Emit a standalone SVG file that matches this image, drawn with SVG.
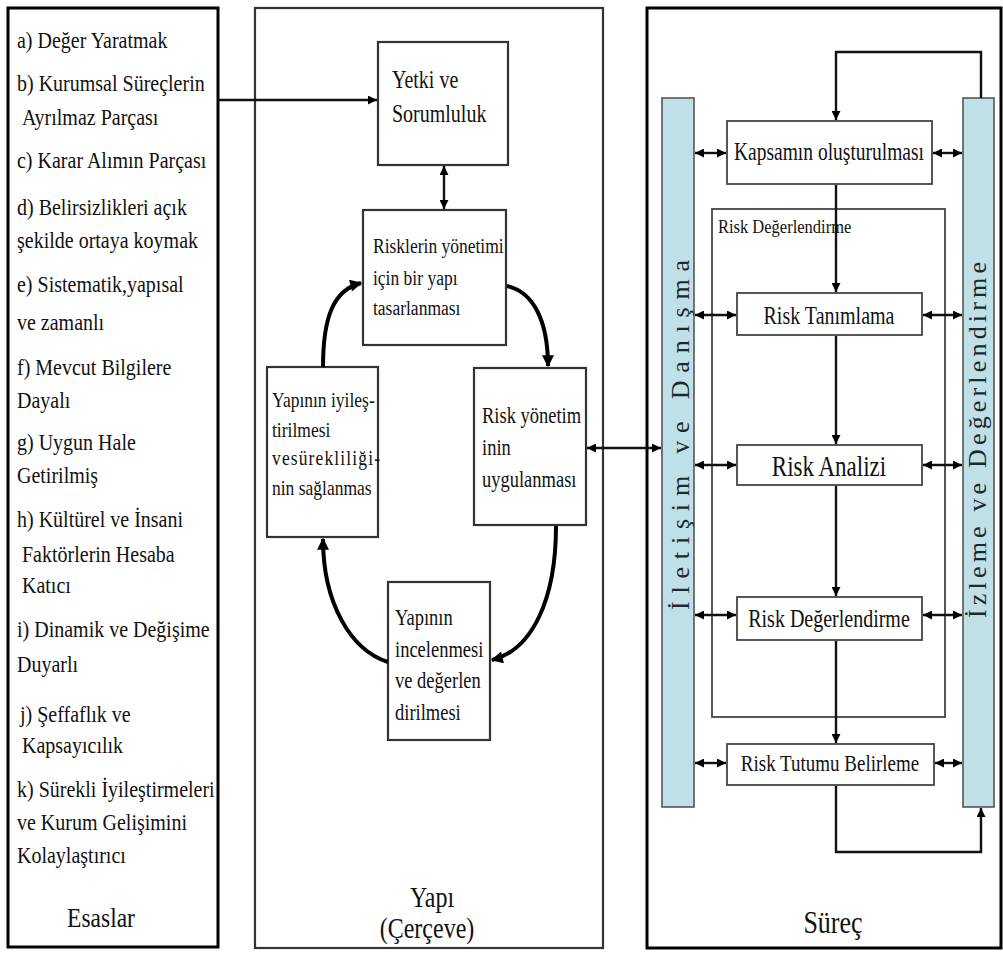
<svg xmlns="http://www.w3.org/2000/svg" width="1003" height="954" viewBox="0 0 1003 954">
<style>
text{font-family:"Liberation Serif","Times New Roman",serif;fill:#111}
.l{font-size:20px}
.m{font-size:17.5px}
.box{fill:#fff;stroke:#333;stroke-width:2.2}
.rbox{fill:#fff;stroke:#444;stroke-width:1.8}
.bar{fill:#bfe0e6;stroke:#555;stroke-width:1.6}
.c{fill:none;stroke:#111;stroke-width:2.4}
.ct{fill:none;stroke:#000;stroke-width:4}
.vt{font-size:26px;fill:#1c2a30}
</style>
<defs>
<marker id="ah" viewBox="0 0 10 10" refX="10" refY="5" markerUnits="userSpaceOnUse" markerWidth="10" markerHeight="9" orient="auto-start-reverse"><path d="M0,0 L10,5 L0,10 z" fill="#000"/></marker>
<marker id="ahb" viewBox="0 0 10 10" refX="9" refY="5" markerUnits="userSpaceOnUse" markerWidth="13" markerHeight="12" orient="auto"><path d="M0,0 L10,5 L0,10 z" fill="#000"/></marker>
</defs>
<rect width="1003" height="954" fill="#fff"/>

<g id="esaslar">
<rect x="8" y="8" width="210" height="939" fill="#fff" stroke="#000" stroke-width="3"/>
<text class="l" transform="translate(17,48) scale(1,1.15)">a) Değer Yaratmak</text>
<text class="l" transform="translate(17,91) scale(1,1.15)">b) Kurumsal Süreçlerin</text>
<text class="l" transform="translate(22,125) scale(1,1.15)">Ayrılmaz Parçası</text>
<text class="l" transform="translate(17,168) scale(1,1.15)">c) Karar Alımın Parçası</text>
<text class="l" transform="translate(17,215) scale(1,1.15)">d) Belirsizlikleri açık</text>
<text class="l" transform="translate(17,248) scale(1,1.15)">şekilde ortaya koymak</text>
<text class="l" transform="translate(17,292) scale(1,1.15)">e) Sistematik,yapısal</text>
<text class="l" transform="translate(17,330) scale(1,1.15)">ve zamanlı</text>
<text class="l" transform="translate(17,375) scale(1,1.15)">f) Mevcut Bilgilere</text>
<text class="l" transform="translate(17,408) scale(1,1.15)">Dayalı</text>
<text class="l" transform="translate(17,450) scale(1,1.15)">g) Uygun Hale</text>
<text class="l" transform="translate(17,483) scale(1,1.15)">Getirilmiş</text>
<text class="l" transform="translate(17,527) scale(1,1.15)">h) Kültürel ve İnsani</text>
<text class="l" transform="translate(22,562) scale(1,1.15)">Faktörlerin Hesaba</text>
<text class="l" transform="translate(22,593) scale(1,1.15)">Katıcı</text>
<text class="l" transform="translate(17,637) scale(1,1.15)">i) Dinamik ve Değişime</text>
<text class="l" transform="translate(17,672) scale(1,1.15)">Duyarlı</text>
<text class="l" transform="translate(20,722) scale(1,1.15)">j) Şeffaflık ve</text>
<text class="l" transform="translate(22,753) scale(1,1.15)">Kapsayıcılık</text>
<text class="l" transform="translate(17,797) scale(1,1.15)">k) Sürekli İyileştirmeleri</text>
<text class="l" transform="translate(17,830) scale(1,1.15)">ve Kurum Gelişimini</text>
<text class="l" transform="translate(17,863) scale(1,1.15)">Kolaylaştırıcı</text>
<text transform="translate(101,927) scale(1,1.2)" text-anchor="middle" font-size="23.5">Esaslar</text>
</g>

<g id="yapi">
<rect x="255" y="8" width="348" height="940" fill="#fff" stroke="#333" stroke-width="2.2"/>
<text transform="translate(432,907) scale(1,1.2)" text-anchor="middle" font-size="24">Yapı</text>
<text transform="translate(427,938) scale(1,1.2)" text-anchor="middle" font-size="24">(Çerçeve)</text>
</g>

<g id="surec">
<rect x="647" y="8" width="354" height="940" fill="#fff" stroke="#000" stroke-width="3"/>
<text transform="translate(833,933) scale(1,1.2)" text-anchor="middle" font-size="26">Süreç</text>
</g>

<g id="yetki">
<rect class="box" x="378" y="42" width="130" height="123"/>
<text transform="translate(392,88) scale(1,1.22)" font-size="20">Yetki ve</text>
<text transform="translate(392,122) scale(1,1.22)" font-size="20">Sorumluluk</text>
</g>

<g id="tasarim">
<rect class="box" x="363" y="210" width="143" height="135"/>
<text class="m" transform="translate(373,253) scale(1,1.25)" font-size="17">Risklerin yönetimi</text>
<text class="m" transform="translate(373,285) scale(1,1.25)" font-size="17">için bir yapı</text>
<text class="m" transform="translate(373,315) scale(1,1.25)" font-size="17">tasarlanması</text>
</g>

<g id="iyilestirme">
<rect class="box" x="267" y="367" width="111" height="170"/>
<text class="m" transform="translate(272,407) scale(1,1.22)">Yapının iyileş-</text>
<text class="m" transform="translate(272,437) scale(1,1.22)">tirilmesi</text>
<text class="m" transform="translate(272,465) scale(1,1.22)" textLength="108" lengthAdjust="spacing">vesürekliliği-</text>
<text class="m" transform="translate(272,495) scale(1,1.22)">nin sağlanmas</text>
</g>

<g id="uygulama">
<rect class="box" x="474" y="368" width="112" height="157"/>
<text transform="translate(482,423) scale(1,1.22)" font-size="18.5">Risk yönetim</text>
<text transform="translate(482,455) scale(1,1.22)" font-size="18.5">inin</text>
<text transform="translate(482,487) scale(1,1.22)" font-size="18.5">uygulanması</text>
</g>

<g id="inceleme">
<rect class="box" x="388" y="582" width="102" height="158"/>
<text transform="translate(395,625) scale(1,1.22)" font-size="18.5">Yapının</text>
<text transform="translate(395,657) scale(1,1.22)" font-size="18.5">incelenmesi</text>
<text transform="translate(395,688) scale(1,1.22)" font-size="18.5">ve değerlen</text>
<text transform="translate(395,720) scale(1,1.22)" font-size="18.5">dirilmesi</text>
</g>

<g id="iletisim">
<rect class="bar" x="662" y="98" width="32" height="709"/>
<text class="vt" transform="translate(689,610) rotate(-90)" textLength="350" lengthAdjust="spacing">İletişim ve Danışma</text>
</g>

<g id="izleme">
<rect class="bar" x="963" y="98" width="31" height="709"/>
<text class="vt" transform="translate(986,618) rotate(-90)" textLength="356" lengthAdjust="spacing">İzleme ve Değerlendirme</text>
</g>

<g id="risk-degerlendirme-grup">
<rect x="712" y="209" width="233" height="508" fill="none" stroke="#444" stroke-width="1.8"/>
<text transform="translate(718,233) scale(1,1.2)" font-size="16.5">Risk Değerlendirme</text>
</g>

<g id="kapsam">
<rect class="rbox" x="727" y="121" width="205" height="63"/>
<text transform="translate(829,160) scale(1,1.25)" text-anchor="middle" font-size="19.5">Kapsamın oluşturulması</text>
</g>

<g id="tanimlama">
<rect class="rbox" x="737" y="293" width="185" height="42"/>
<text transform="translate(829,324) scale(1,1.25)" text-anchor="middle" font-size="20">Risk Tanımlama</text>
</g>

<g id="analiz">
<rect class="rbox" x="737" y="445" width="185" height="40"/>
<text transform="translate(829,476) scale(1,1.3)" text-anchor="middle" font-size="23">Risk Analizi</text>
</g>

<g id="degerlendirme">
<rect class="rbox" x="737" y="597" width="185" height="43"/>
<text transform="translate(829,627) scale(1,1.25)" text-anchor="middle" font-size="20">Risk Değerlendirme</text>
</g>

<g id="tutum">
<rect class="rbox" x="727" y="744" width="207" height="41"/>
<text transform="translate(830,771) scale(1,1.25)" text-anchor="middle" font-size="19">Risk Tutumu Belirleme</text>
</g>

<g id="connectors">
<line class="c" x1="218" y1="100" x2="377" y2="100" marker-end="url(#ah)"/>
<line class="c" x1="444" y1="166" x2="444" y2="209" marker-start="url(#ah)" marker-end="url(#ah)"/>
<path class="ct" d="M323,367 C323,318 333,290 361,283" marker-end="url(#ahb)"/>
<path class="ct" d="M507,286 C534,292 548,322 548,366" marker-end="url(#ahb)"/>
<path class="ct" d="M556,526 C556,600 532,650 492,660" marker-end="url(#ahb)"/>
<path class="ct" d="M388,662 C350,650 323,602 323,539" marker-end="url(#ahb)"/>
<line class="c" x1="587" y1="448" x2="661" y2="448" marker-start="url(#ah)" marker-end="url(#ah)"/>
<path class="c" d="M981,98 V52 H836 V120" marker-end="url(#ah)"/>
<line class="c" x1="836" y1="185" x2="836" y2="292" marker-end="url(#ah)"/>
<line class="c" x1="836" y1="336" x2="836" y2="444" marker-end="url(#ah)"/>
<line class="c" x1="836" y1="486" x2="836" y2="596" marker-end="url(#ah)"/>
<line class="c" x1="836" y1="641" x2="836" y2="743" marker-end="url(#ah)"/>
<path class="c" d="M836,786 V852 H981 V808" marker-end="url(#ah)"/>
<line class="c" x1="695" y1="153" x2="726" y2="153" marker-start="url(#ah)" marker-end="url(#ah)"/>
<line class="c" x1="933" y1="153" x2="962" y2="153" marker-start="url(#ah)" marker-end="url(#ah)"/>
<line class="c" x1="695" y1="315" x2="736" y2="315" marker-start="url(#ah)" marker-end="url(#ah)"/>
<line class="c" x1="923" y1="315" x2="962" y2="315" marker-start="url(#ah)" marker-end="url(#ah)"/>
<line class="c" x1="695" y1="465" x2="736" y2="465" marker-start="url(#ah)" marker-end="url(#ah)"/>
<line class="c" x1="923" y1="465" x2="962" y2="465" marker-start="url(#ah)" marker-end="url(#ah)"/>
<line class="c" x1="695" y1="615" x2="736" y2="615" marker-start="url(#ah)" marker-end="url(#ah)"/>
<line class="c" x1="923" y1="615" x2="962" y2="615" marker-start="url(#ah)" marker-end="url(#ah)"/>
<line class="c" x1="695" y1="763" x2="726" y2="763" marker-start="url(#ah)" marker-end="url(#ah)"/>
<line class="c" x1="935" y1="763" x2="962" y2="763" marker-start="url(#ah)" marker-end="url(#ah)"/>
</g>
</svg>
